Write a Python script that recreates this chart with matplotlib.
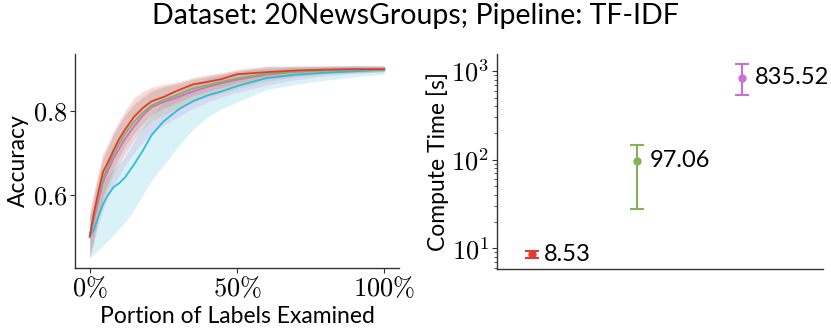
import numpy as np
import matplotlib
matplotlib.use("Agg")
import matplotlib.pyplot as plt
from matplotlib.ticker import FixedLocator, FuncFormatter, NullFormatter

plt.rcParams['font.family'] = ['Lato', 'DejaVu Sans']
plt.rcParams['mathtext.fontset'] = 'cm'

# portion of labels examined
portion = [0, 0.015, 0.03, 0.045, 0.06, 0.08, 0.1, 0.12, 0.15, 0.18, 0.21,
           0.25, 0.3, 0.35, 0.4, 0.45, 0.5, 0.6, 0.7, 0.8, 0.9, 1.0]

# mean accuracy and band (lower / upper) per method
red_mean = [0.503, 0.56, 0.61, 0.655, 0.675, 0.705, 0.733, 0.755, 0.785, 0.806, 0.822,
            0.832, 0.848, 0.862, 0.868, 0.875, 0.886, 0.891, 0.895, 0.897, 0.898, 0.898]
red_lo = [0.45, 0.50, 0.55, 0.595, 0.625, 0.66, 0.69, 0.715, 0.745, 0.77, 0.79,
          0.805, 0.82, 0.835, 0.845, 0.855, 0.865, 0.875, 0.883, 0.888, 0.891, 0.893]
red_hi = [0.56, 0.61, 0.655, 0.70, 0.72, 0.75, 0.775, 0.80, 0.83, 0.845, 0.855,
          0.862, 0.868, 0.878, 0.885, 0.89, 0.898, 0.905, 0.905, 0.906, 0.906, 0.905]

green_mean = [0.503, 0.55, 0.60, 0.64, 0.665, 0.695, 0.722, 0.745, 0.773, 0.795, 0.812,
              0.825, 0.838, 0.852, 0.860, 0.868, 0.876, 0.887, 0.892, 0.895, 0.897, 0.898]
green_lo = [0.46, 0.50, 0.545, 0.585, 0.615, 0.645, 0.675, 0.70, 0.73, 0.755, 0.775,
            0.79, 0.805, 0.82, 0.832, 0.842, 0.852, 0.87, 0.88, 0.886, 0.889, 0.891]
green_hi = [0.55, 0.60, 0.65, 0.69, 0.71, 0.74, 0.765, 0.79, 0.815, 0.835, 0.848,
            0.858, 0.865, 0.875, 0.882, 0.888, 0.895, 0.9, 0.903, 0.904, 0.905, 0.905]

purple_mean = [0.50, 0.545, 0.59, 0.63, 0.655, 0.685, 0.71, 0.733, 0.762, 0.788, 0.808,
               0.820, 0.832, 0.845, 0.856, 0.865, 0.873, 0.885, 0.892, 0.896, 0.898, 0.899]
purple_lo = [0.45, 0.49, 0.53, 0.565, 0.59, 0.62, 0.645, 0.67, 0.70, 0.725, 0.745,
             0.765, 0.785, 0.805, 0.82, 0.833, 0.843, 0.86, 0.873, 0.882, 0.888, 0.892]
purple_hi = [0.55, 0.60, 0.645, 0.685, 0.71, 0.745, 0.77, 0.79, 0.815, 0.83, 0.845,
             0.855, 0.863, 0.872, 0.88, 0.886, 0.893, 0.9, 0.903, 0.905, 0.906, 0.906]

cyan_mean = [0.50, 0.52, 0.55, 0.578, 0.598, 0.618, 0.628, 0.642, 0.672, 0.705, 0.742,
             0.774, 0.802, 0.822, 0.836, 0.846, 0.858, 0.877, 0.885, 0.890, 0.893, 0.897]
cyan_lo = [0.45, 0.46, 0.47, 0.48, 0.49, 0.505, 0.52, 0.535, 0.565, 0.60, 0.635,
           0.67, 0.715, 0.755, 0.785, 0.805, 0.82, 0.85, 0.862, 0.872, 0.88, 0.886]
cyan_hi = [0.55, 0.58, 0.61, 0.63, 0.645, 0.66, 0.675, 0.69, 0.725, 0.76, 0.79,
           0.82, 0.845, 0.862, 0.875, 0.884, 0.892, 0.905, 0.906, 0.905, 0.906, 0.906]

# compute time
time_mean = [8.53, 97.06, 835.52]
time_lo = [7.7, 27.7, 537]
time_hi = [9.3, 147.6, 1200]
time_colors = ['#e53b2c', '#86b15b', '#cc6fd4']

c_red, c_green, c_purple, c_cyan = '#e53b2c', '#86b15b', '#cc6fd4', '#2fbcd8'

fig = plt.figure(figsize=(8.31, 3.36), dpi=100)
ax1 = fig.add_axes([0.0903, 0.2024, 0.3899, 0.6369])
ax2 = fig.add_axes([0.598, 0.1994, 0.3923, 0.64])

series = [(cyan_mean, cyan_lo, cyan_hi, c_cyan),
          (purple_mean, purple_lo, purple_hi, c_purple),
          (green_mean, green_lo, green_hi, c_green),
          (red_mean, red_lo, red_hi, c_red)]
for m, lo, hi, c in series:
    ax1.fill_between(portion, lo, hi, color=c, alpha=0.18, lw=0)
for m, lo, hi, c in series:
    ax1.plot(portion, m, color=c, lw=1.3)

ax1.set_xlim(-0.05, 1.05)
ax1.set_ylim(0.427, 0.934)
ax1.xaxis.set_major_locator(FixedLocator([0, 0.5, 1.0]))
ax1.xaxis.set_major_formatter(FuncFormatter(lambda v, p: r'$%d\%%$' % round(v * 100)))
ax1.yaxis.set_major_locator(FixedLocator([0.6, 0.8]))
ax1.yaxis.set_major_formatter(FuncFormatter(lambda v, p: r'$%.1f$' % v))
ax1.set_xlabel('Portion of Labels Examined', fontsize=16.5, labelpad=3)
ax1.set_ylabel('Accuracy', fontsize=16.5, labelpad=3)

# right panel
xs = np.arange(len(time_mean))
for i in xs:
    m = time_mean[i]
    ax2.errorbar(xs[i], m, yerr=[[m - time_lo[i]], [time_hi[i] - m]], fmt='o',
                 color=time_colors[i], ms=5, capsize=5, elinewidth=1.5, capthick=1.5)
    ax2.annotate('%.2f' % m, (xs[i], m), xytext=(9, 0), textcoords='offset points',
                 va='center', ha='left', fontsize=17)
ax2.set_yscale('log')
ax2.set_xlim(-0.33, 2.77)
ax2.set_ylim(5.85, 1556)
ax2.set_xticks([])
ax2.yaxis.set_major_locator(FixedLocator([10, 100, 1000]))
ax2.yaxis.set_major_formatter(FuncFormatter(lambda v, p: r'$10^{%d}$' % round(np.log10(v))))
ax2.yaxis.set_minor_formatter(NullFormatter())
ax2.set_ylabel('Compute Time [s]', fontsize=16.5, labelpad=2)

for ax in (ax1, ax2):
    for s in ('top', 'right'):
        ax.spines[s].set_visible(False)
    for s in ('left', 'bottom'):
        ax.spines[s].set_color('#333333')
        ax.spines[s].set_linewidth(1.0)
    ax.tick_params(labelsize=19, colors='#333333', labelcolor='black', length=3.5, pad=2)
    ax.tick_params(which='minor', length=2, colors='#333333')

fig.suptitle('Dataset: 20NewsGroups; Pipeline: TF-IDF', fontsize=20.5, y=0.99)
fig.savefig('out.png', dpi=100)
